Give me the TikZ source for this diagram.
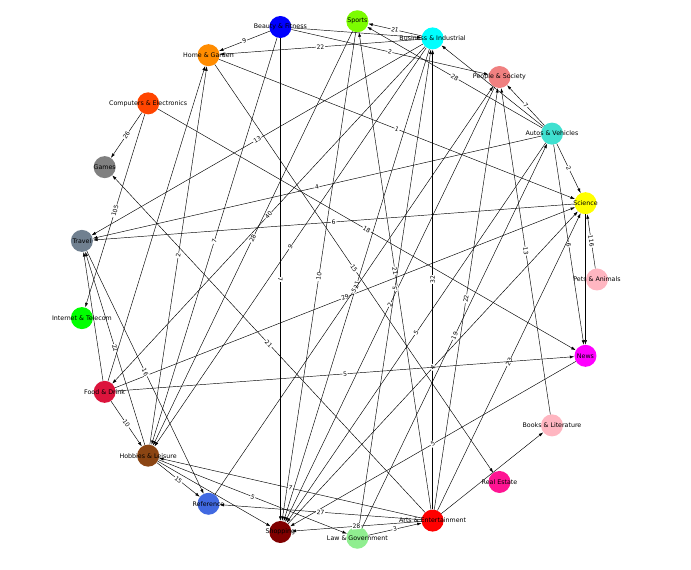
\documentclass[tikz,border=0pt]{standalone}
\usepackage{fontspec}
\setmainfont{DejaVu Sans}
\usetikzlibrary{arrows.meta}
\definecolor{cPA}{RGB}{255,182,193}
\definecolor{cSC}{RGB}{255,255,0}
\definecolor{cAV}{RGB}{64,224,208}
\definecolor{cPS}{RGB}{240,128,128}
\definecolor{cBI}{RGB}{0,255,255}
\definecolor{cSP}{RGB}{124,252,0}
\definecolor{cBF}{RGB}{0,0,255}
\definecolor{cHG}{RGB}{255,140,0}
\definecolor{cCE}{RGB}{255,69,0}
\definecolor{cGA}{RGB}{128,128,128}
\definecolor{cTR}{RGB}{112,128,144}
\definecolor{cIT}{RGB}{0,255,0}
\definecolor{cFD}{RGB}{220,20,60}
\definecolor{cHL}{RGB}{139,69,19}
\definecolor{cRF}{RGB}{65,105,225}
\definecolor{cSH}{RGB}{128,0,0}
\definecolor{cLG}{RGB}{144,238,144}
\definecolor{cAE}{RGB}{255,0,0}
\definecolor{cRE}{RGB}{255,20,147}
\definecolor{cBL}{RGB}{255,182,193}
\definecolor{cNE}{RGB}{255,0,255}
\begin{document}
\begin{tikzpicture}[x=1pt,y=1pt,
  vtx/.style={circle, minimum size=22pt, inner sep=0pt, draw=none},
  vtxtext/.style={font=\fontsize{6.3}{7}\selectfont, text=black, inner sep=0pt},
  edge/.style={draw=black, line width=0.45pt, -{Latex[length=4.5pt,width=3pt]}},
  wt/.style={midway, sloped, fill=white, inner sep=0.7pt, font=\fontsize{6}{6}\selectfont}
]
\useasboundingbox (0,0) rectangle (691,570);
\fill[white] (0,0) rectangle (691,570);
\begin{scope}[shift={(338,290.5)}]
\node[vtx, fill=cPA] (PA) at ({360/21*0}:259) {};
\node[vtx, fill=cSC] (SC) at ({360/21*1}:259) {};
\node[vtx, fill=cAV] (AV) at ({360/21*2}:259) {};
\node[vtx, fill=cPS] (PS) at ({360/21*3}:259) {};
\node[vtx, fill=cBI] (BI) at ({360/21*4}:259) {};
\node[vtx, fill=cSP] (SP) at ({360/21*5}:259) {};
\node[vtx, fill=cBF] (BF) at ({360/21*6}:259) {};
\node[vtx, fill=cHG] (HG) at ({360/21*7}:259) {};
\node[vtx, fill=cCE] (CE) at ({360/21*8}:259) {};
\node[vtx, fill=cGA] (GA) at ({360/21*9}:259) {};
\node[vtx, fill=cTR] (TR) at ({360/21*10}:259) {};
\node[vtx, fill=cIT] (IT) at ({360/21*11}:259) {};
\node[vtx, fill=cFD] (FD) at ({360/21*12}:259) {};
\node[vtx, fill=cHL] (HL) at ({360/21*13}:259) {};
\node[vtx, fill=cRF] (RF) at ({360/21*14}:259) {};
\node[vtx, fill=cSH] (SH) at ({360/21*15}:259) {};
\node[vtx, fill=cLG] (LG) at ({360/21*16}:259) {};
\node[vtx, fill=cAE] (AE) at ({360/21*17}:259) {};
\node[vtx, fill=cRE] (RE) at ({360/21*18}:259) {};
\node[vtx, fill=cBL] (BL) at ({360/21*19}:259) {};
\node[vtx, fill=cNE] (NE) at ({360/21*20}:259) {};
\end{scope}
% edges
\draw[edge] (BF) -- node[wt]{9} (HG);
\draw[edge] (BI) -- node[wt]{22} (HG);
\draw[edge] (BI) -- node[wt]{21} (SP);
\draw[edge] (BF) -- node[wt]{2} (PS);
\draw[edge] (BF) -- (BI);
\draw[edge] (AV) -- node[wt]{28} (SP);
\draw[edge] (AV) -- node[wt]{7} (PS);
\draw[edge] (AV) -- (BI);
\draw[edge] (AV) -- node[wt]{2} (SC);
\draw[edge] (PA) -- node[wt]{116} (SC);
\draw[edge] (AV) -- node[wt]{6} (NE);
\draw[edge] (BL) -- node[wt]{13} (PS);
\draw[edge] (HG) -- node[wt]{1} (SC);
\draw[edge] (BI) -- node[wt]{13} (TR);
\draw[edge] (CE) -- node[wt]{26} (GA);
\draw[edge] (CE) -- node[wt]{105} (IT);
\draw[edge] (AV) -- node[wt]{4} (TR);
\draw[edge] (SC) -- node[wt]{6} (TR);
\draw[edge] (CE) -- node[wt]{18} (NE);
\draw[edge] (BI) -- node[wt]{40} (FD);
\draw[edge] (SP) -- node[wt]{28} (HL);
\draw[edge] (BF) -- node[wt]{7} (HL);
\draw[edge] (BF) -- node[wt]{7} (SH);
\draw[edge] (SP) -- node[wt]{10} (SH);
\draw[edge] (BI) -- node[wt]{9} (HL);
\draw[edge] (HG) -- node[wt]{15} (RE);
\draw[edge] (BI) -- node[wt]{21} (SH);
\draw[edge] (FD) -- node[wt]{29} (SC);
\draw[edge] (PS) -- node[wt]{2} (SH);
\draw[edge] (AE) -- node[wt]{21} (SP);
\draw[edge] (AE) -- node[wt]{32} (BI);
\draw[edge] (LG) -- node[wt]{5} (BI);
\draw[edge] (AE) -- node[wt]{22} (PS);
\draw[edge] (LG) -- node[wt]{19} (AV);
\draw[edge] (AV) -- node[wt]{5} (SH);
\draw[edge] (SH) -- node[wt]{4} (SC);
\draw[edge] (AE) -- node[wt]{23} (SC);
\draw[edge] (AE) -- node[wt]{21} (GA);
\draw[edge] (FD) -- node[wt]{5} (NE);
\draw[edge] (NE) -- node[wt]{5} (SH);
\draw[edge] (AE) -- node[wt]{27} (RF);
\draw[edge] (AE) -- node[wt]{7} (HL);
\draw[edge] (AE) -- node[wt]{28} (SH);
\draw[edge] (LG) -- node[wt]{3} (AE);
\draw[edge] (HL) -- node[wt]{5} (LG);
\draw[edge] (HL) -- node[wt]{15} (RF);
\draw[edge] (HL) -- (SH);
\draw[edge] (FD) -- node[wt]{10} (HL);
\draw[edge] (TR) -- node[wt]{16} (RF);
\draw[edge] (HL) -- node[wt]{22} (TR);
\draw[edge] (FD) -- (TR);
\draw[edge] (FD) -- (HG);
\draw[edge] (HL) -- node[wt]{2} (HG);
\draw[edge] (SC) -- (NE);
\draw[edge] (RF) -- node[wt]{5} (PS);
\draw[edge] (AE) -- (BL);
% node texts
\node[vtxtext] (tPA) at (PA) {Pets \& Animals};
\node[vtxtext] (tSC) at (SC) {Science};
\node[vtxtext] (tAV) at (AV) {Autos \& Vehicles};
\node[vtxtext] (tPS) at (PS) {People \& Society};
\node[vtxtext] (tBI) at (BI) {Business \& Industrial};
\node[vtxtext] (tSP) at (SP) {Sports};
\node[vtxtext] (tBF) at (BF) {Beauty \& Fitness};
\node[vtxtext] (tHG) at (HG) {Home \& Garden};
\node[vtxtext] (tCE) at (CE) {Computers \& Electronics};
\node[vtxtext] (tGA) at (GA) {Games};
\node[vtxtext] (tTR) at (TR) {Travel};
\node[vtxtext] (tIT) at (IT) {Internet \& Telecom};
\node[vtxtext] (tFD) at (FD) {Food \& Drink};
\node[vtxtext] (tHL) at (HL) {Hobbies \& Leisure};
\node[vtxtext] (tRF) at (RF) {Reference};
\node[vtxtext] (tSH) at (SH) {Shopping};
\node[vtxtext] (tLG) at (LG) {Law \& Government};
\node[vtxtext] (tAE) at (AE) {Arts \& Entertainment};
\node[vtxtext] (tRE) at (RE) {Real Estate};
\node[vtxtext] (tBL) at (BL) {Books \& Literature};
\node[vtxtext] (tNE) at (NE) {News};
\end{tikzpicture}
\end{document}
